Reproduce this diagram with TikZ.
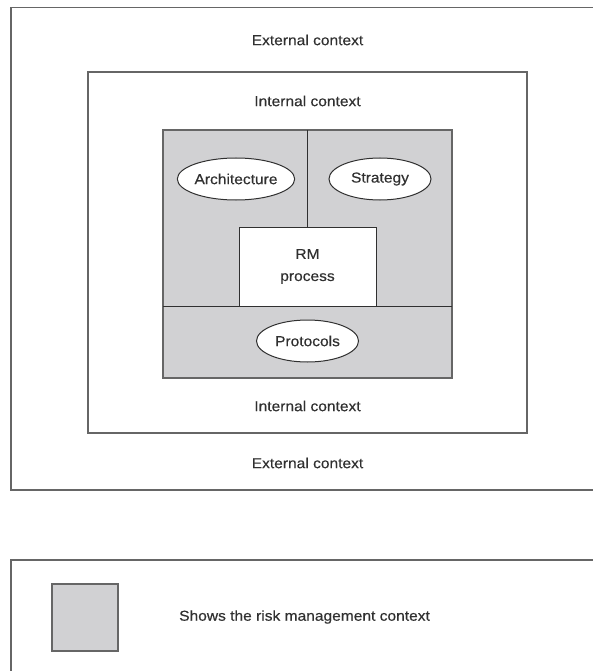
\documentclass[tikz,border=0pt]{standalone}
\usepackage{fontspec}
\setmainfont[FakeStretch=1.08,FakeBold=0.35]{Liberation Sans}
\usetikzlibrary{shapes.geometric}
\definecolor{txt}{HTML}{303030}
\definecolor{linegray}{HTML}{666666}
\definecolor{ctxgray}{HTML}{D1D1D3}
\begin{document}
\begin{tikzpicture}[x=1pt,y=-1pt,
  frame/.style={draw=linegray, line width=1.4pt},
  lbl/.style={text=txt, font=\fontsize{14.4}{17}\selectfont, inner sep=0pt},
  oval/.style={ellipse, draw=txt, line width=1pt, fill=white, minimum width=102pt, minimum height=42pt, inner sep=0pt, text=txt, font=\fontsize{14.4}{17}\selectfont},
  rmbox/.style={rectangle, draw=txt, line width=1pt, fill=white, minimum width=137pt, minimum height=79pt, inner sep=0pt, text=txt, align=center, font=\fontsize{14.4}{22}\selectfont}]
\useasboundingbox (0,0) rectangle (593,671);
\clip (0,0) rectangle (593,671);
\fill[white] (0,0) rectangle (593,671);
% frames
\draw[frame] (11,7.5) rectangle (640,490);
\draw[frame] (88,72) rectangle (527,433);
\draw[frame, fill=ctxgray] (163,130) rectangle (452,378);
% dividers
\coordinate (vtop) at (307.5,130);
\coordinate (hl) at (163,306);
\coordinate (hr) at (452,306);
\node[rmbox] (rm) at (307.5,266.5) {RM\\process};
\draw[draw=txt, line width=1pt] (vtop) -- (rm.north);
\draw[draw=txt, line width=1pt] (hl) -- (hr);
% ellipses
\node[oval] (arch) at (236,179) {Architecture};
\node[oval] (strat) at (380,179) {Strategy};
\node[oval] (prot) at (307.5,341) {Protocols};
% labels
\node[lbl] (ext1) at (307.5,40) {External context};
\node[lbl] (int1) at (307.5,101) {Internal context};
\node[lbl] (int2) at (307.5,406) {Internal context};
\node[lbl] (ext2) at (307.5,463) {External context};
% legend
\draw[frame] (11,560) rectangle (640,671.5);
\node[rectangle, draw=linegray, line width=1.4pt, fill=ctxgray, minimum width=66pt, minimum height=67pt, inner sep=0pt] (sq) at (85,617.5) {};
\node[lbl, anchor=west] (legtxt) at (179,617) {Shows the risk management context};
\end{tikzpicture}
\end{document}
